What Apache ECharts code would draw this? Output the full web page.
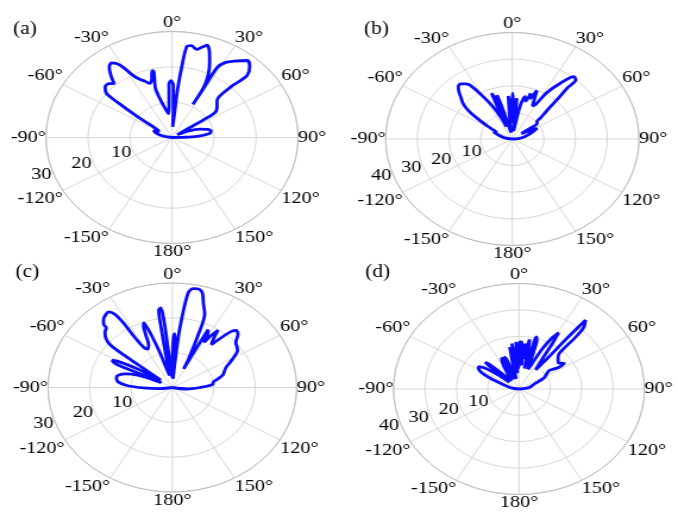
<!DOCTYPE html>
<html>
<head>
<meta charset="utf-8">
<script src="https://cdn.jsdelivr.net/npm/echarts@6/dist/echarts.min.js"></script>
<style>
  html, body { margin: 0; padding: 0; background: #fff; }
  /* the source figure draws its polar grids as ellipses, so the chart is stretched sideways */
  #main { width: 570px; height: 512px; transform: scaleX(1.1895); transform-origin: 0 0; }
</style>
</head>
<body>
<div id="main"></div>
<script>
  // [angle (deg), value]
  var patternA = [
    [-90, 0], [-80, 2], [-72, 4], [-66, 4.8], [-61, 3.5], [-57, 4.5], [-55, 7.5], [-54, 11], [-52.5, 16],
    [-51.4, 19.9], [-48.1, 21.4], [-44.5, 21.4], [-42, 20.6], [-40, 22.5], [-37, 24.8], [-34.3, 25.6],
    [-32, 24.6], [-30.4, 23.1], [-27.9, 19.9], [-25, 18.2], [-22, 17.2], [-19, 16.2], [-16.5, 17],
    [-14.8, 18.8], [-13.7, 19.5], [-13.1, 19], [-14.5, 16.5], [-15.9, 14.3], [-13.9, 10.3], [-9.5, 7.6],
    [-7, 6.8], [-4.5, 9], [-2.7, 15.2], [-0.9, 16.1], [1.2, 14.7], [2.2, 8], [3, 3], [5, 7.7], [5.5, 13.4],
    [6.6, 20], [7.8, 26], [10, 26.4], [13.3, 25.6], [15.5, 26.5], [17.7, 27.4], [20.5, 25.5], [23.2, 22.7],
    [27.5, 17.1], [27.9, 10.6], [28.3, 16], [28.5, 22.6], [31, 24.8], [34.2, 26.1], [39.4, 28.2],
    [42.6, 27.3], [45.5, 25.1], [45, 22], [44.3, 19.9], [45.6, 15], [50, 14], [55.2, 12.6], [56.3, 9],
    [56.5, 4], [58, 1.5], [64, 4], [70, 7], [75, 8.8], [79, 9.45], [83, 8.8], [87, 6], [89, 2.5], [90, 0]
  ];
  var patternB = [
    [-90, 0], [-80, 2.5], [-72, 4.5], [-66, 6.5], [-63, 5.5], [-60, 7.5], [-58.5, 9], [-56, 12],
    [-54, 15.3], [-52, 18], [-49.3, 20.6], [-46, 22.6], [-43.5, 24.5], [-41, 26], [-38.4, 26.4],
    [-36, 25.6], [-33.6, 24.4], [-30, 18.4], [-26.6, 13.5], [-24, 9], [-22, 5], [-21, 10], [-21, 15],
    [-20.9, 18.4], [-19.5, 16], [-19, 10], [-18.5, 5], [-17.5, 10], [-16.8, 15], [-16.5, 17.2],
    [-15.5, 14], [-14, 8], [-11, 3], [-7, 2.5], [-5.5, 9], [-4.5, 16.2], [-3.5, 12], [-2, 8], [-1, 12],
    [0.3, 17.2], [1.5, 12], [2.5, 6], [3.5, 9], [5.2, 15.4], [6, 10], [7.5, 3], [9.5, 6], [11, 12],
    [12.5, 15], [14.2, 16.4], [16.5, 14.8], [18.5, 18.1], [20.5, 16], [23, 19.8], [25, 16.5], [27, 14],
    [29.4, 14.7], [32, 20.5], [36, 26], [39.7, 30.4], [42, 29.9], [42.2, 25.8], [43.5, 21], [44.7, 17.1],
    [46.5, 14], [48.5, 11.8], [50, 10.2], [52.9, 9.8], [54, 6], [55, 3.5], [58, 5], [62.9, 8.8],
    [66, 7.5], [72, 5.5], [78, 4], [85, 2], [90, 0]
  ];
  var patternC = [
    [-100, 0], [-96, 3], [-91, 7], [-87, 11], [-83, 13.2], [-78, 13.8], [-74.5, 13.4], [-71, 12],
    [-68.5, 10.5], [-65.5, 7], [-63, 3], [-61.5, 3.5], [-63, 8], [-64, 13.4], [-63.5, 15.5], [-62, 16.5],
    [-60.5, 15.5], [-58, 10.5], [-55, 5], [-53, 3.5], [-52, 7], [-51.7, 10.3], [-51.5, 14], [-50.9, 19.2],
    [-48.5, 21.5], [-45.5, 22.8], [-43, 23.4], [-42.5, 24.5], [-40.5, 25.6], [-37.5, 26.4], [-35.2, 26.6],
    [-33.5, 25.3], [-32.5, 22], [-32.3, 17.4], [-31, 13.5], [-28, 12.5], [-25, 13.6], [-23, 16.5],
    [-21.5, 19], [-20.5, 19.8], [-19, 17], [-17, 11], [-14, 5], [-11, 3.5], [-9.5, 10], [-9, 17],
    [-8.4, 22.5], [-7, 23], [-6, 19], [-5.5, 12], [-4, 5], [-2, 3], [0, 8], [1, 14], [2, 15.5], [3, 13],
    [3, 6], [3.5, 2.5], [5, 8], [6, 17], [7.9, 27.2], [10, 28.8], [12.4, 29], [14.3, 28.5], [15.4, 27.6],
    [17.5, 25], [20.2, 22.6], [22.5, 16], [25.5, 9], [27, 6], [27, 10], [27.4, 18.7], [29, 17.5],
    [30.5, 15], [32, 17.5], [33.8, 19.8], [35.5, 17], [37.5, 15.5], [39.5, 18.5], [41.5, 21.5],
    [43.2, 22.5], [46, 22], [50, 20], [53, 19.5], [55.9, 19], [60, 17], [63, 15.5], [65.6, 14.3],
    [69, 13.5], [73.6, 12.7], [78, 11], [81, 10], [84.7, 9.8], [90, 6.6], [97, 3.5], [105, 0]
  ];
  var patternD = [
    [-90, 0], [-80, 2.5], [-72, 5], [-66, 10], [-62, 13.8], [-58.5, 15.2], [-56.5, 15.3], [-54, 13.5],
    [-51, 8], [-49, 4], [-48, 8], [-47.5, 13], [-46.5, 14.8], [-45, 13], [-42, 7], [-38, 4], [-33, 6],
    [-29, 10], [-26, 12.6], [-24.5, 12.8], [-23.5, 9], [-22.5, 4], [-21.5, 8], [-21.5, 13.1], [-19.5, 12],
    [-16, 5], [-13, 4], [-11.5, 10], [-10.5, 16.2], [-9, 11], [-8, 12], [-7.6, 17.4], [-6.5, 13], [-5, 6],
    [-4, 10], [-3, 17.9], [-1.5, 13], [-0.5, 8], [0.5, 12], [1, 17.9], [2.7, 17.9], [4, 12], [5, 9],
    [5.5, 13], [6.2, 17.4], [7.2, 13], [8, 12], [9, 16], [10.3, 19.1], [11.5, 14], [12.5, 8], [14, 10],
    [15, 16], [15.6, 20.5], [17, 19.5], [17.7, 18.2], [19, 12], [21, 8], [23, 10], [26, 17], [28.5, 22],
    [30.6, 24.8], [31.5, 21], [33, 14], [36, 9], [37.8, 14], [38.5, 25], [39.1, 33.6], [41.3, 31.4],
    [42.5, 27], [43.6, 18.6], [47, 17], [52, 16], [56, 17.4], [57, 15], [54, 12], [57, 10.5], [60.8, 9.4],
    [63, 8.5], [66, 6.5], [70, 5], [76, 4], [83, 2.5], [90, 0]
  ];

  var patterns = [patternA, patternB, patternC, patternD];
  var panelNames = ['(a)', '(b)', '(c)', '(d)'];
  var radiusMax = [30, 40, 30, 40];
  var radiusTicksA = [10, 20, 30];
  var radiusTicksB = [10, 20, 30, 40];
  var radiusTicks = [radiusTicksA, radiusTicksB, radiusTicksA, radiusTicksB];

  var font = "'Liberation Serif', 'Times New Roman', serif";
  var panels = [
    { center: [144.6, 137.5], radius: 106, title: [11, 20] },
    { center: [430.7, 139], radius: 106.5, title: [306, 20] },
    { center: [144.9, 387.5], radius: 104.5, title: [13, 263] },
    { center: [436.3, 389], radius: 105.5, title: [307, 263] }
  ];

  var chart = echarts.init(document.getElementById('main'));

  var option = {
    backgroundColor: '#fff',
    title: [],
    polar: [],
    angleAxis: [],
    radiusAxis: [],
    series: []
  };

  panels.forEach(function (p, i) {
    option.title.push({
      text: panelNames[i],
      left: p.title[0],
      top: p.title[1],
      padding: 0,
      textStyle: { fontFamily: font, fontSize: 18, fontWeight: 'normal', color: '#000' }
    });
    option.polar.push({ center: p.center, radius: p.radius });
    option.angleAxis.push({
      polarIndex: i,
      type: 'value',
      min: -180,
      max: 180,
      interval: 30,
      startAngle: 270,
      clockwise: true,
      axisLine: { lineStyle: { color: '#bdbdbd', width: 1 } },
      axisTick: { show: false },
      splitLine: { lineStyle: { color: '#d8d8d8', width: 1 } },
      axisLabel: {
        margin: 0,
        fontFamily: font,
        fontSize: 17,
        color: '#000',
        formatter: function (v) { return (v === -180 ? 180 : v) + '°'; }
      }
    });
    option.radiusAxis.push({
      polarIndex: i,
      type: 'value',
      min: 0,
      max: radiusMax[i],
      interval: 10,
      axisLine: { show: false },
      axisTick: { show: false },
      axisLabel: { show: false },
      splitLine: { lineStyle: { color: '#d8d8d8', width: 1 } }
    });
    option.series.push({
      type: 'line',
      coordinateSystem: 'polar',
      polarIndex: i,
      symbol: 'none',
      smooth: 0.3,
      lineStyle: { color: '#0b0bff', width: 2.8 },
      data: patterns[i].map(function (d) { return [d[1], d[0]]; })
    });
    // radius tick labels, set along the -108 degree direction like the source
    option.series.push({
      type: 'scatter',
      coordinateSystem: 'polar',
      polarIndex: i,
      symbolSize: 1,
      silent: true,
      itemStyle: { color: 'rgba(0,0,0,0)' },
      label: {
        show: true,
        position: 'left',
        distance: 0,
        offset: [0, 4],
        fontFamily: font,
        fontSize: 17,
        color: '#000',
        opacity: 1,
        formatter: function (d) { return d.value[0]; }
      },
      data: radiusTicks[i].map(function (v) { return [v, -108]; })
    });
  });

  chart.setOption(option);
</script>
</body>
</html>
